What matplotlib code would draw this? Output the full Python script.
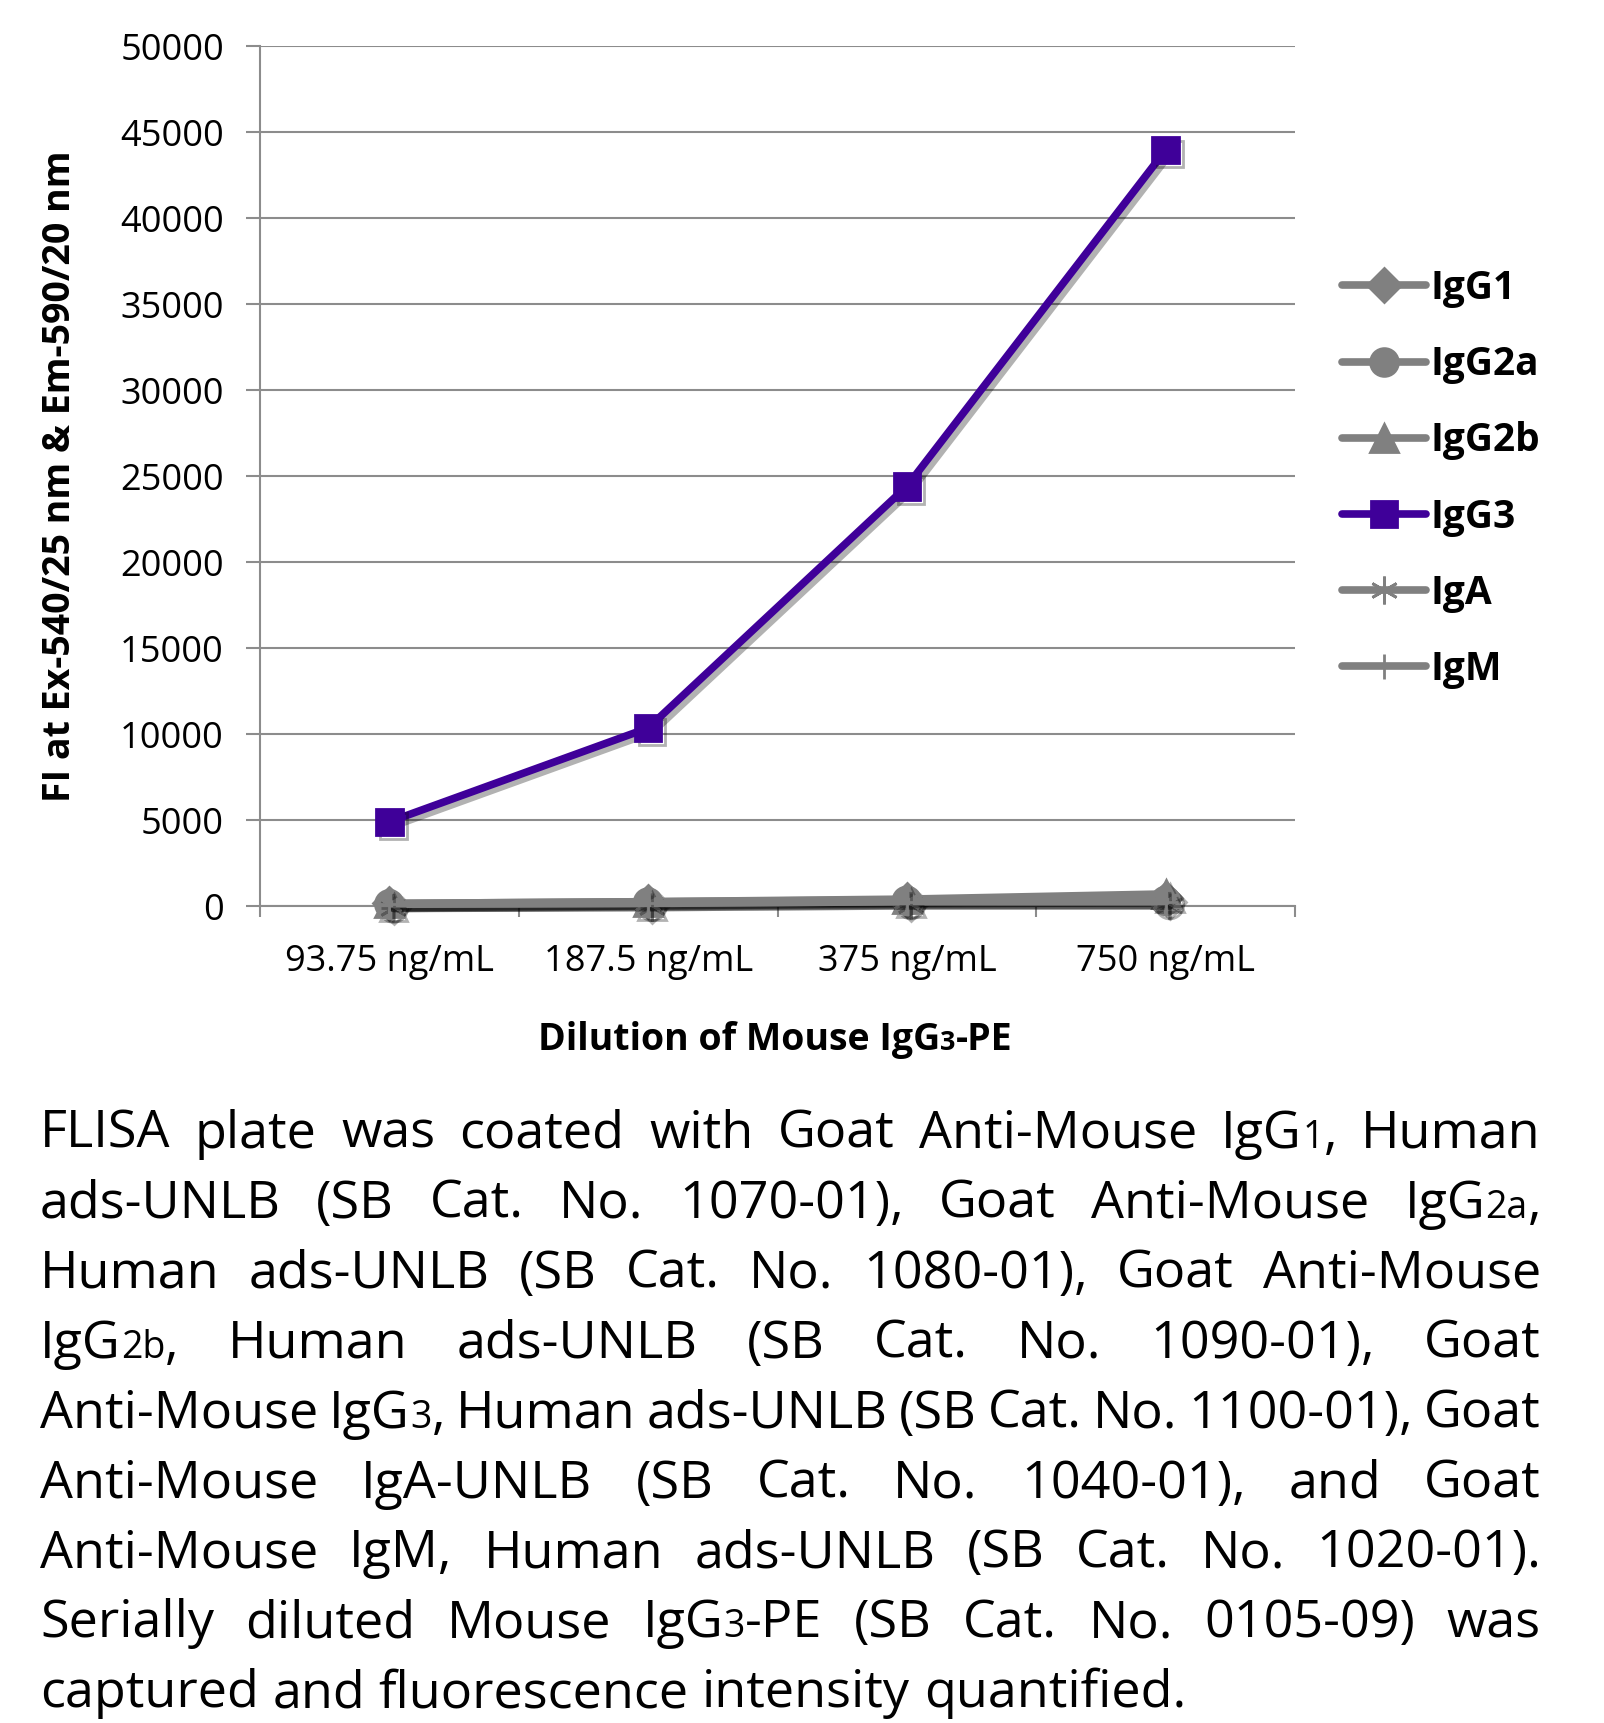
import re

import matplotlib
matplotlib.use("Agg")
import matplotlib.pyplot as plt
import matplotlib.patheffects as pe
import numpy as np

FONT = "Open Sans"
plt.rcParams["font.family"] = [FONT, "DejaVu Sans"]

DILUTIONS = ["93.75 ng/mL", "187.5 ng/mL", "375 ng/mL", "750 ng/mL"]
SERIES_NAMES = ["IgG1", "IgG2a", "IgG2b", "IgG3", "IgA", "IgM"]
IGG1 = [150, 250, 350, 450]
IGG2A = [100, 200, 300, 300]
IGG2B = [150, 250, 400, 700]
IGG3 = [4900, 10350, 24400, 43950]
IGA = [100, 150, 250, 250]
IGM = [100, 150, 250, 250]
Y_TICKS = [0, 5000, 10000, 15000, 20000, 25000, 30000, 35000, 40000, 45000, 50000]

CAPTION_LINES = [
    "FLISA plate was coated with Goat Anti-Mouse IgG{1}, Human",
    "ads-UNLB (SB Cat. No. 1070-01), Goat Anti-Mouse IgG{2a},",
    "Human ads-UNLB (SB Cat. No. 1080-01), Goat Anti-Mouse",
    "IgG{2b}, Human ads-UNLB (SB Cat. No. 1090-01), Goat",
    "Anti-Mouse IgG{3}, Human ads-UNLB (SB Cat. No. 1100-01), Goat",
    "Anti-Mouse IgA-UNLB (SB Cat. No. 1040-01), and Goat",
    "Anti-Mouse IgM, Human ads-UNLB (SB Cat. No. 1020-01).",
    "Serially diluted Mouse IgG{3}-PE (SB Cat. No. 0105-09) was",
    "captured and fluorescence intensity quantified.",
]
X_LABEL = "Dilution of Mouse IgG{3}-PE"
Y_LABEL = "FI at Ex-540/25 nm & Em-590/20 nm"

W, H = 1604, 1723
GRAY = "#808080"
GRID = "#8c8c8c"
PURPLE = "#3f0099"
SMALL = 0.72

fig = plt.figure(figsize=(W / 100, H / 100), dpi=100)
fig.patch.set_facecolor("white")
renderer = fig.canvas.get_renderer()

ax = fig.add_axes([260 / W, 1 - 906 / H, 1035 / W, 860 / H])
x = np.arange(len(DILUTIONS))

styles = [
    (IGG1, GRAY, "D", 17),
    (IGG2A, GRAY, "o", 20),
    (IGG2B, GRAY, "^", 20),
    (IGG3, PURPLE, "s", 19),
    (IGA, GRAY, (6, 2, 0), 20),
    (IGM, GRAY, "+", 18),
]
shadow = [pe.SimpleLineShadow(offset=(3, -3), alpha=0.3, rho=0.1), pe.Normal()]
handles = []
for name, (vals, color, marker, ms) in zip(SERIES_NAMES, styles):
    (ln,) = ax.plot(x, vals, color=color, lw=5.5, marker=marker, ms=ms,
                    mec=color, mfc=color, mew=2, solid_capstyle="round",
                    label=name, clip_on=False, path_effects=shadow, zorder=3)
    handles.append(ln)

ax.set_xlim(-0.5, len(DILUTIONS) - 0.5)
ax.set_ylim(0, 50000)
ax.set_yticks(Y_TICKS)
ax.set_yticklabels([str(v) for v in Y_TICKS])
ax.set_xticks(x)
ax.set_xticklabels(DILUTIONS)
ax.set_xticks(np.arange(len(DILUTIONS) + 1) - 0.5, minor=True)
ax.tick_params(axis="y", length=10, width=1.5, color=GRID, pad=16, labelsize=26)
ax.tick_params(axis="x", which="major", length=0, pad=27, labelsize=26)
ax.tick_params(axis="x", which="minor", length=8, width=1.5, color=GRID)
ax.grid(axis="y", color=GRID, lw=1.5)
ax.set_axisbelow(True)
for side in ("top", "right"):
    ax.spines[side].set_visible(False)
for side in ("left", "bottom"):
    ax.spines[side].set_color(GRID)
    ax.spines[side].set_linewidth(1.5)

ax.set_ylabel(Y_LABEL, fontsize=27, fontweight="bold")
ax.yaxis.set_label_coords(-0.175, 0.5)

leg = ax.legend(handles=handles, loc="upper left", bbox_to_anchor=(1342 / W, 1 - 269 / H),
                bbox_transform=fig.transFigure, frameon=False, borderpad=0, borderaxespad=0,
                handlelength=2.15, handletextpad=0.13, labelspacing=0.957,
                prop={"family": FONT, "weight": "bold", "size": 28})
for h in leg.legend_handles:
    h.set_path_effects([])


def split_segments(word):
    parts = re.split(r"(\{[^}]*\})", word)
    segs = []
    for p in parts:
        if not p:
            continue
        if p.startswith("{"):
            segs.append((p[1:-1], True))
        else:
            segs.append((p, False))
    return segs


def text_width(s, size, weight="normal"):
    t = fig.text(0, 0, s, fontsize=size, fontweight=weight)
    w = t.get_window_extent(renderer).width
    t.remove()
    return w


def draw_segments(segs, x0, baseline, size, weight="normal"):
    xp = x0
    for s, small in segs:
        fs = size * SMALL if small else size
        fig.text(xp / W, 1 - baseline / H, s, fontsize=fs, fontweight=weight, va="baseline", ha="left")
        xp += text_width(s, fs, weight)
    return xp


def segs_width(segs, size, weight="normal"):
    return sum(text_width(s, size * SMALL if small else size, weight) for s, small in segs)


# x-axis title, centred under the plot area
xl_segs = split_segments(X_LABEL)
xl_size = 27
xl_w = segs_width(xl_segs, xl_size, "bold")
draw_segments(xl_segs, 775 - xl_w / 2, 1050, xl_size, "bold")

# justified caption block
cap_size = 37.5
left, right = 40, 1541
space_w = text_width("a a", cap_size) - 2 * text_width("a", cap_size)
for i, line in enumerate(CAPTION_LINES):
    baseline = 1148 + 69.9 * i
    words = [split_segments(wd) for wd in line.split(" ")]
    widths = [segs_width(wd, cap_size) for wd in words]
    last = i == len(CAPTION_LINES) - 1
    gap = space_w if last else (right - left - sum(widths)) / (len(words) - 1)
    xp = left
    for wd, wdw in zip(words, widths):
        draw_segments(wd, xp, baseline, cap_size)
        xp += wdw + gap

fig.savefig("out.png", dpi=100, facecolor="white")
